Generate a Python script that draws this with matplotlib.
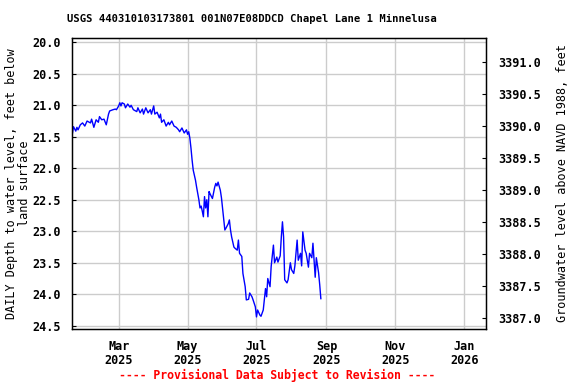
import numpy as np
import matplotlib
matplotlib.use('Agg')
import matplotlib.pyplot as plt
import matplotlib.dates as mdates

# ---------------------------------------------------------------------------
# Data (days since 2025-03-01, depth below land surface)
# ---------------------------------------------------------------------------
day_offset = [
    -41, -40, -38, -37, -36, -34, -32, -30, -28, -25, -24, -22, -20, -18,
    -17, -15, -13, -11, -9, -8, -5, -3, -2, 0, 1, 2, 3, 5, 6, 8, 10, 11,
    13, 16, 17, 19, 21, 22, 24, 26, 28, 29, 31, 32, 34, 36, 37, 38, 40,
    42, 44, 45, 47, 49, 51, 53, 54, 56, 58, 60, 61, 62, 63, 64, 65, 66,
    68, 69, 71, 72, 73, 74, 75, 76, 77, 78, 79, 80, 81, 83, 84, 85, 86,
    87, 88, 90, 91, 93, 94, 95, 97, 98, 99, 100, 102, 103, 105, 106, 107,
    109, 110, 112, 113, 115, 116, 118, 119, 121, 122, 123, 125, 126, 128,
    130, 131, 132, 134, 135, 137, 138, 140, 141, 143, 144, 145, 146, 147,
    149, 150, 152, 153, 155, 156, 158, 159, 161, 162, 163, 165, 166, 168,
    169, 171, 172, 174, 175, 177, 178, 179,
]
depth_ft = [
    21.45, 21.34, 21.41, 21.35, 21.39, 21.31, 21.28, 21.33, 21.25, 21.28,
    21.22, 21.35, 21.23, 21.27, 21.18, 21.23, 21.22, 21.31, 21.14, 21.09,
    21.07, 21.06, 21.07, 21.01, 20.96, 21.01, 20.96, 20.98, 21.04, 20.98,
    21.03, 21.00, 21.07, 21.10, 21.04, 21.12, 21.06, 21.14, 21.04, 21.12,
    21.07, 21.14, 21.01, 21.14, 21.11, 21.20, 21.14, 21.27, 21.23, 21.33,
    21.27, 21.31, 21.25, 21.33, 21.35, 21.39, 21.42, 21.36, 21.44, 21.39,
    21.46, 21.42, 21.52, 21.68, 21.87, 22.03, 22.19, 22.30, 22.50, 22.63,
    22.60, 22.68, 22.77, 22.45, 22.63, 22.50, 22.77, 22.37, 22.41, 22.48,
    22.39, 22.30, 22.24, 22.28, 22.22, 22.35, 22.47, 22.82, 22.98, 22.95,
    22.88, 22.82, 22.98, 23.09, 23.25, 23.27, 23.30, 23.14, 23.35, 23.40,
    23.67, 23.88, 24.09, 24.08, 23.98, 24.04, 24.09, 24.20, 24.36, 24.25,
    24.33, 24.35, 24.25, 23.91, 24.04, 23.75, 23.88, 23.56, 23.22, 23.50,
    23.41, 23.49, 23.39, 23.09, 22.85, 23.09, 23.77, 23.82, 23.77, 23.50,
    23.61, 23.67, 23.55, 23.14, 23.46, 23.35, 23.55, 23.01, 23.30, 23.35,
    23.57, 23.35, 23.42, 23.19, 23.73, 23.42, 23.66, 23.85, 24.07,
]

depth_ticks = [20.0, 20.5, 21.0, 21.5, 22.0, 22.5, 23.0, 23.5, 24.0, 24.5]
elev_ticks = [3387.0, 3387.5, 3388.0, 3388.5, 3389.0, 3389.5, 3390.0,
              3390.5, 3391.0]
month_ticks = ['2025-03-01', '2025-05-01', '2025-07-01', '2025-09-01',
               '2025-11-01', '2026-01-01']

title = 'USGS 440310103173801 001N07E08DDCD Chapel Lane 1 Minnelusa'
left_label = 'DAILY Depth to water level, feet below\nland surface'
right_label = 'Groundwater level above NAVD 1988, feet'
footer = '---- Provisional Data Subject to Revision ----'

# ---------------------------------------------------------------------------
# Plot
# ---------------------------------------------------------------------------
plt.rcParams['font.family'] = ['DejaVu Sans Mono']
plt.rcParams['font.weight'] = 'bold'

dates = np.datetime64('2025-03-01') + np.array(day_offset).astype('timedelta64[D]')

fig = plt.figure(figsize=(5.76, 3.84), dpi=100)
ax = fig.add_axes([0.1245, 0.1432, 0.7184, 0.7578])

ax.plot(dates, depth_ft, color='#0000ff', linewidth=1.0)

mar1 = mdates.date2num(np.datetime64('2025-03-01'))
jan1 = mdates.date2num(np.datetime64('2026-01-01'))
ax.set_xlim(mar1 - 41.6, jan1 + 18.8)
ax.set_ylim(24.552, 19.932)

ax.set_yticks(depth_ticks)
ax.set_yticklabels([f'{v:.1f}' for v in depth_ticks])
xt = [mdates.date2num(np.datetime64(d)) for d in month_ticks]
ax.set_xticks(xt)
ax.set_xticklabels([mdates.num2date(v).strftime('%b\n%Y') for v in xt],
                   linespacing=1.05)

ax.grid(True, color='#cccccc', linewidth=1.0)
ax.set_axisbelow(True)
ax.tick_params(axis='y', direction='in', length=3, labelsize=8.5, pad=8)
ax.tick_params(axis='x', length=0, labelsize=8.5, pad=8)
for sp in ax.spines.values():
    sp.set_linewidth(1.0)

ax.set_ylabel(left_label, fontsize=8.5, linespacing=0.95)
ax.yaxis.set_label_coords(-0.099, 0.5)

ax2 = ax.twinx()
ax2.set_ylim(3386.833, 3391.380)
ax2.set_yticks(elev_ticks)
ax2.set_yticklabels([f'{v:.1f}' for v in elev_ticks])
ax2.tick_params(axis='y', direction='in', length=3, labelsize=8.5, pad=9)
ax2.set_ylabel(right_label, fontsize=8.5)
ax2.yaxis.set_label_coords(1.170, 0.5)

fig.text(252 / 576, 1 - 19 / 384, title, ha='center', va='center',
         fontsize=7.6)
fig.text(277 / 576, 1 - 375 / 384, footer, ha='center', va='center',
         fontsize=8.3, color='red')

fig.savefig('out.png', dpi=100)
